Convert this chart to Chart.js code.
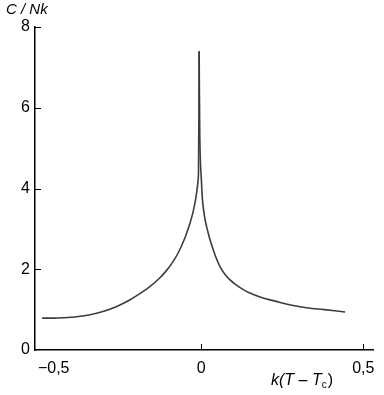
<!DOCTYPE html>
<html>
<head>
<meta charset="utf-8">
<script src="https://cdn.jsdelivr.net/npm/chart.js@4"></script>
<style>
  html, body { margin: 0; padding: 0; background: #fff; }
  #wrap { width: 384px; height: 395px; }
</style>
</head>
<body>
<div id="wrap"><canvas id="chart"></canvas></div>
<script>
// below Tc (left branch) and above Tc (right branch)
const leftT = [-0.49, -0.45, -0.40, -0.35, -0.30, -0.26, -0.22, -0.19, -0.16, -0.13, -0.11, -0.09, -0.07, -0.05, -0.035, -0.025, -0.016, -0.011, -0.008, -0.006];
const leftC = [0.79, 0.79, 0.81, 0.86, 0.96, 1.08, 1.24, 1.39, 1.555, 1.765, 1.935, 2.145, 2.415, 2.775, 3.12, 3.41, 3.77, 4.07, 4.37, 7.4];
const rightT = [-0.006, -0.004, -0.002, 0.001, 0.004, 0.008, 0.0125, 0.02, 0.028, 0.038, 0.048, 0.06, 0.074, 0.09, 0.105, 0.125, 0.145, 0.186, 0.228, 0.284, 0.33, 0.38, 0.444];
const rightC = [7.4, 5.3, 4.65, 4.2, 3.75, 3.45, 3.22, 2.96, 2.72, 2.47, 2.25, 2.04, 1.87, 1.73, 1.63, 1.52, 1.43, 1.3, 1.21, 1.1, 1.04, 1.0, 0.94];

const xTicks = [-0.5, 0, 0.5];
const xTickLabels = ['\u22120,5', '0', '0,5'];
const yTicks = [0, 2, 4, 6, 8];

const FONT = '"Liberation Sans", Arial, sans-serif';
const ink = '#000';
const curve = '#3c3c3c';

const toPoints = (xs, ys) => xs.map((x, i) => ({ x: x, y: ys[i] }));

// inward tick marks, x tick labels and axis titles
const decor = {
    id: 'decor',
    afterDraw(chart) {
        const { ctx, chartArea } = chart;
        const xs = chart.scales.x, ys = chart.scales.y;
        ctx.save();
        ctx.strokeStyle = ink;
        ctx.lineWidth = 1;
        yTicks.forEach(v => {
            if (v === 0) return;
            const py = Math.round(ys.getPixelForValue(v)) + 0.5;
            ctx.beginPath();
            ctx.moveTo(chartArea.left, py);
            ctx.lineTo(chartArea.left + 6, py);
            ctx.stroke();
        });
        xTicks.forEach(v => {
            if (v === -0.5) return;
            const px = Math.round(xs.getPixelForValue(v)) + 0.5;
            ctx.beginPath();
            ctx.moveTo(px, chartArea.bottom);
            ctx.lineTo(px, chartArea.bottom - 6);
            ctx.stroke();
        });

        ctx.fillStyle = ink;
        ctx.font = '16px ' + FONT;
        ctx.textBaseline = 'top';
        xTicks.forEach((v, i) => {
            const px = xs.getPixelForValue(v);
            ctx.textAlign = i === 0 ? 'left' : 'center';
            ctx.fillText(xTickLabels[i], px - (i === 0 ? 1 : 0), chartArea.bottom + 11);
        });

        // y title
        ctx.textAlign = 'left';
        ctx.textBaseline = 'alphabetic';
        ctx.font = 'italic 15px ' + FONT;
        ctx.fillText('C / Nk', 6, 14);

        // x title  k(T − Tc)
        let x = 271;
        const base = 385;
        ctx.font = 'italic 16px ' + FONT;
        const part1 = 'k(T \u2013 T';
        ctx.fillText(part1, x, base);
        x += ctx.measureText(part1).width;
        ctx.font = '10px ' + FONT;
        ctx.fillText('c', x, base + 3);
        x += ctx.measureText('c').width + 1;
        ctx.font = '16px ' + FONT;
        ctx.fillText(')', x, base);
        ctx.restore();
    }
};

new Chart(document.getElementById('chart').getContext('2d'), {
    type: 'line',
    data: {
        datasets: [
            {
                data: toPoints(leftT, leftC),
                borderColor: curve,
                borderWidth: 1.6,
                pointRadius: 0,
                fill: false,
                tension: 0.4
            },
            {
                data: toPoints(rightT, rightC),
                borderColor: curve,
                borderWidth: 1.6,
                pointRadius: 0,
                fill: false,
                tension: 0.4
            }
        ]
    },
    options: {
        responsive: true,
        maintainAspectRatio: false,
        animation: false,
        layout: { padding: { top: 27, right: 11, left: 0, bottom: 0 } },
        plugins: { legend: { display: false }, tooltip: { enabled: false } },
        scales: {
            x: {
                type: 'linear',
                min: -0.512,
                max: 0.53,
                afterBuildTicks: s => { s.ticks = xTicks.map(v => ({ value: v })); },
                afterFit: s => { s.height = 45; },
                ticks: { display: false },
                grid: { display: false },
                border: { display: true, color: ink, width: 1.5 }
            },
            y: {
                min: 0,
                max: 8,
                afterBuildTicks: s => { s.ticks = yTicks.map(v => ({ value: v })); },
                afterFit: s => { s.width = 35; },
                ticks: { color: ink, font: { family: FONT, size: 16 }, padding: 5 },
                grid: { display: false, drawTicks: false },
                border: { display: true, color: ink, width: 1.5 }
            }
        }
    },
    plugins: [decor]
});
</script>
</body>
</html>
